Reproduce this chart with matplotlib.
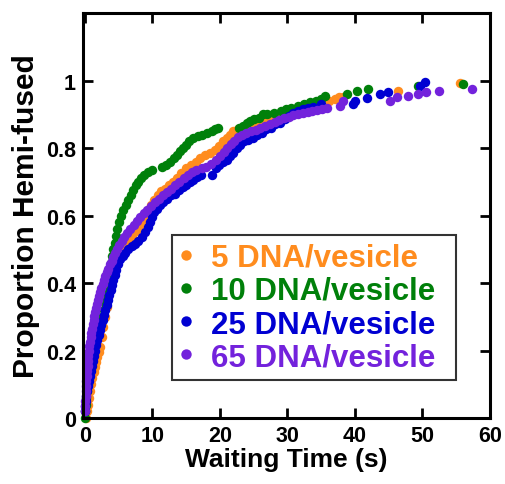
import matplotlib
matplotlib.use("Agg")
import matplotlib.pyplot as plt

plt.rcParams['font.family'] = ['Liberation Sans', 'DejaVu Sans']
plt.rcParams['font.weight'] = 'bold'

labels = ["5 DNA/vesicle", "10 DNA/vesicle", "25 DNA/vesicle", "65 DNA/vesicle"]
colors = ["#FF8C1E", "#00800A", "#0000D2", "#7322DC"]

# 5 DNA/vesicle
t5 = [0.2, 0.35, 0.5, 0.65, 0.8, 0.95, 1.1, 1.3, 1.5, 1.65, 1.8, 2.0, 2.2, 2.45, 2.7, 2.95, 3.2,
      3.45, 3.75, 4.1, 4.6, 5.3, 6.0, 6.5, 7.0, 7.5, 8.0, 8.4, 8.8, 9.3, 9.8, 10.3, 10.8, 11.3,
      11.9, 12.5, 13.1, 13.7, 14.3, 15.0, 15.7, 16.4, 17.1, 17.8, 18.5, 19.2, 19.9, 20.5, 21.0,
      21.5, 22.0, 22.7, 23.5, 24.3, 25.1, 26.0, 27.0, 28.0, 28.9, 29.8, 30.6, 31.4, 32.2, 33.0,
      33.8, 34.6, 35.4, 36.2, 37.0, 37.6, 38.3, 46.4, 55.6]
p5 = [0.0, 0.02, 0.04, 0.06, 0.08, 0.10, 0.12, 0.135, 0.15, 0.165, 0.18, 0.195, 0.21, 0.24,
      0.27, 0.30, 0.33, 0.36, 0.39, 0.42, 0.45, 0.48, 0.51, 0.525, 0.54, 0.555, 0.57, 0.585,
      0.60, 0.615, 0.63, 0.645, 0.66, 0.672, 0.68, 0.69, 0.70, 0.71, 0.725, 0.74, 0.75, 0.76,
      0.77, 0.78, 0.785, 0.795, 0.805, 0.82, 0.83, 0.84, 0.85, 0.855, 0.86, 0.865, 0.87, 0.875,
      0.88, 0.885, 0.89, 0.895, 0.90, 0.908, 0.915, 0.92, 0.925, 0.93, 0.935, 0.94, 0.945,
      0.95, 0.952, 0.97, 0.994]

# 10 DNA/vesicle
t10 = [0.0, 0.05, 0.1, 0.2, 0.3, 0.4, 0.55, 0.7, 0.85, 1.0, 1.2, 1.4, 1.65, 1.95, 2.25, 2.55,
       2.8, 3.0, 3.15, 3.3, 3.45, 3.6, 3.75, 3.9, 4.05, 4.2, 4.4, 4.6, 4.8, 5.05, 5.35, 5.7,
       6.05, 6.4, 6.75, 7.1, 7.5, 7.9, 8.3, 8.8, 9.4, 10.0, 11.4, 12.0, 12.6, 13.2, 13.7, 14.1,
       14.5, 14.9, 15.4, 16.0, 16.7, 17.4, 18.1, 18.8, 19.3, 19.7, 22.8, 23.4, 24.0, 24.5, 25.1,
       25.8, 26.4, 27.0, 28.0, 29.0, 29.8, 30.6, 31.5, 32.5, 33.4, 34.3, 35.0, 35.6, 38.8, 40.3,
       41.9, 49.4, 56.0]
p10 = [0.0, 0.02, 0.04, 0.06, 0.08, 0.10, 0.12, 0.14, 0.16, 0.18, 0.20, 0.22, 0.24, 0.26,
       0.28, 0.30, 0.32, 0.34, 0.36, 0.38, 0.40, 0.42, 0.44, 0.46, 0.48, 0.50, 0.52, 0.54, 0.56,
       0.58, 0.60, 0.615, 0.63, 0.645, 0.66, 0.675, 0.69, 0.70, 0.71, 0.72, 0.73, 0.735, 0.745,
       0.75, 0.76, 0.77, 0.78, 0.79, 0.80, 0.81, 0.82, 0.83, 0.835, 0.84, 0.845, 0.85, 0.855,
       0.86, 0.86, 0.865, 0.875, 0.88, 0.885, 0.89, 0.90, 0.902, 0.905, 0.91, 0.915, 0.92,
       0.925, 0.93, 0.935, 0.94, 0.945, 0.955, 0.96, 0.968, 0.974, 0.985, 0.99]

# 25 DNA/vesicle
t25 = [0.0, 0.05, 0.1, 0.2, 0.3, 0.4, 0.55, 0.7, 0.85, 1.0, 1.2, 1.4, 1.55, 1.7, 1.85, 2.0,
       2.2, 2.4, 2.6, 2.8, 3.0, 3.2, 3.4, 3.6, 3.8, 4.0, 4.2, 4.4, 4.6, 4.9, 5.2, 5.6, 6.0, 6.4,
       6.9, 7.4, 7.9, 8.4, 8.9, 9.3, 9.6, 9.9, 10.3, 10.7, 11.1, 11.6, 12.2, 12.8, 13.4, 14.0,
       14.5, 15.0, 15.5, 16.0, 16.6, 17.2, 18.8, 19.4, 19.9, 20.5, 21.0, 21.5, 22.0, 22.5, 23.0,
       23.5, 24.2, 24.9, 25.5, 26.2, 26.9, 27.5, 28.2, 28.9, 29.6, 30.2, 30.9, 31.6, 32.3, 33.0,
       33.8, 35.0, 39.7, 40.0, 41.8, 43.7, 44.9, 49.6, 50.4]
p25 = [0.02, 0.035, 0.05, 0.065, 0.08, 0.095, 0.11, 0.125, 0.14, 0.155, 0.17, 0.185, 0.20,
       0.215, 0.23, 0.245, 0.26, 0.275, 0.29, 0.305, 0.32, 0.335, 0.35, 0.365, 0.38, 0.395,
       0.41, 0.425, 0.44, 0.455, 0.47, 0.48, 0.49, 0.50, 0.51, 0.515, 0.525, 0.535, 0.55, 0.565,
       0.58, 0.595, 0.61, 0.62, 0.63, 0.64, 0.65, 0.66, 0.665, 0.675, 0.685, 0.69, 0.70, 0.705,
       0.715, 0.72, 0.72, 0.74, 0.75, 0.76, 0.765, 0.775, 0.785, 0.80, 0.81, 0.82, 0.825, 0.83,
       0.84, 0.845, 0.855, 0.86, 0.87, 0.875, 0.885, 0.895, 0.905, 0.91, 0.915, 0.92, 0.922,
       0.93, 0.93, 0.94, 0.947, 0.96, 0.967, 0.985, 0.997]

# 65 DNA/vesicle
t65 = [0.0, 0.03, 0.06, 0.1, 0.14, 0.18, 0.22, 0.27, 0.32, 0.37, 0.43, 0.5, 0.57, 0.65, 0.74,
       0.83, 0.93, 1.03, 1.14, 1.26, 1.38, 1.5, 1.63, 1.77, 1.92, 2.08, 2.25, 2.42, 2.6, 2.8,
       3.0, 3.2, 3.45, 3.7, 3.95, 4.2, 4.5, 4.8, 5.1, 5.45, 5.8, 6.2, 6.7, 7.2, 7.7, 8.2, 8.7,
       9.2, 9.8, 10.4, 11.0, 11.6, 12.2, 12.8, 13.4, 14.0, 14.6, 15.2, 15.8, 16.4, 17.3, 18.0,
       18.7, 19.4, 20.0, 20.6, 21.1, 21.6, 22.1, 22.7, 23.3, 23.9, 24.6, 25.3, 26.0, 26.7, 27.4,
       28.1, 28.8, 29.5, 30.2, 30.9, 31.6, 32.3, 33.0, 33.7, 34.4, 35.1, 35.8, 37.8, 38.3, 45.2,
       46.2, 47.9, 49.3, 50.5, 52.4, 57.3]
p65 = [0.02, 0.035, 0.05, 0.065, 0.08, 0.095, 0.11, 0.125, 0.14, 0.155, 0.17, 0.185, 0.20,
       0.213, 0.226, 0.239, 0.252, 0.265, 0.278, 0.29, 0.302, 0.314, 0.326, 0.338, 0.35, 0.362,
       0.374, 0.386, 0.398, 0.41, 0.421, 0.432, 0.443, 0.455, 0.466, 0.477, 0.49, 0.50, 0.512,
       0.524, 0.536, 0.548, 0.56, 0.572, 0.584, 0.596, 0.607, 0.617, 0.628, 0.639, 0.65, 0.66,
       0.67, 0.68, 0.69, 0.70, 0.71, 0.72, 0.728, 0.735, 0.74, 0.745, 0.752, 0.765, 0.777,
       0.789, 0.80, 0.812, 0.822, 0.832, 0.84, 0.846, 0.85, 0.854, 0.858, 0.864, 0.871, 0.878,
       0.884, 0.889, 0.893, 0.897, 0.90, 0.904, 0.908, 0.911, 0.914, 0.917, 0.92, 0.926, 0.94,
       0.94, 0.95, 0.955, 0.96, 0.966, 0.97, 0.976]

xticks = [0, 10, 20, 30, 40, 50, 60]
yticks = [0, 0.2, 0.4, 0.6, 0.8, 1]
ytick_labels = ["0", "0.2", "0.4", "0.6", "0.8", "1"]

fig = plt.figure(figsize=(5.06, 4.85), dpi=100)
ax = fig.add_axes([0.164, 0.136, 0.804, 0.835])

series = [(t5, p5), (t10, p10), (t25, p25), (t65, p65)]
for (t, p), lab, c in zip(series, labels, colors):
    ax.plot(t, p, 'o', color=c, markersize=6.8, markeredgewidth=0, label=lab, clip_on=False)

ax.set_xlim(-0.3, 60)
ax.set_ylim(0, 1.2)
ax.set_xticks(xticks)
ax.set_xticklabels([str(v) for v in xticks])
ax.set_yticks(yticks)
ax.set_yticklabels(ytick_labels)
ax.tick_params(direction='in', length=7, width=2, top=True, right=True,
               labelsize=15.5, pad=5)
for lab in ax.get_xticklabels() + ax.get_yticklabels():
    lab.set_fontweight('bold')
for s in ax.spines.values():
    s.set_linewidth(2.2)

ax.set_xlabel("Waiting Time (s)", fontsize=19, fontweight='bold', labelpad=1)
ax.set_ylabel("Proportion Hemi-fused", fontsize=21.5, fontweight='bold', labelpad=4)

leg = ax.legend(loc='lower left', bbox_to_anchor=(0.219, 0.094, 0.697, 0.373), mode='expand',
                fontsize=22.5, frameon=True, fancybox=False, handlelength=0.4,
                handletextpad=0.6, labelspacing=0.1, borderpad=0.25, markerscale=1.1,
                borderaxespad=0)
leg.get_frame().set_edgecolor('black')
leg.get_frame().set_linewidth(1.5)
for txt, c in zip(leg.get_texts(), colors):
    txt.set_color(c)
    txt.set_fontweight('bold')

fig.savefig("out.png", dpi=100)
